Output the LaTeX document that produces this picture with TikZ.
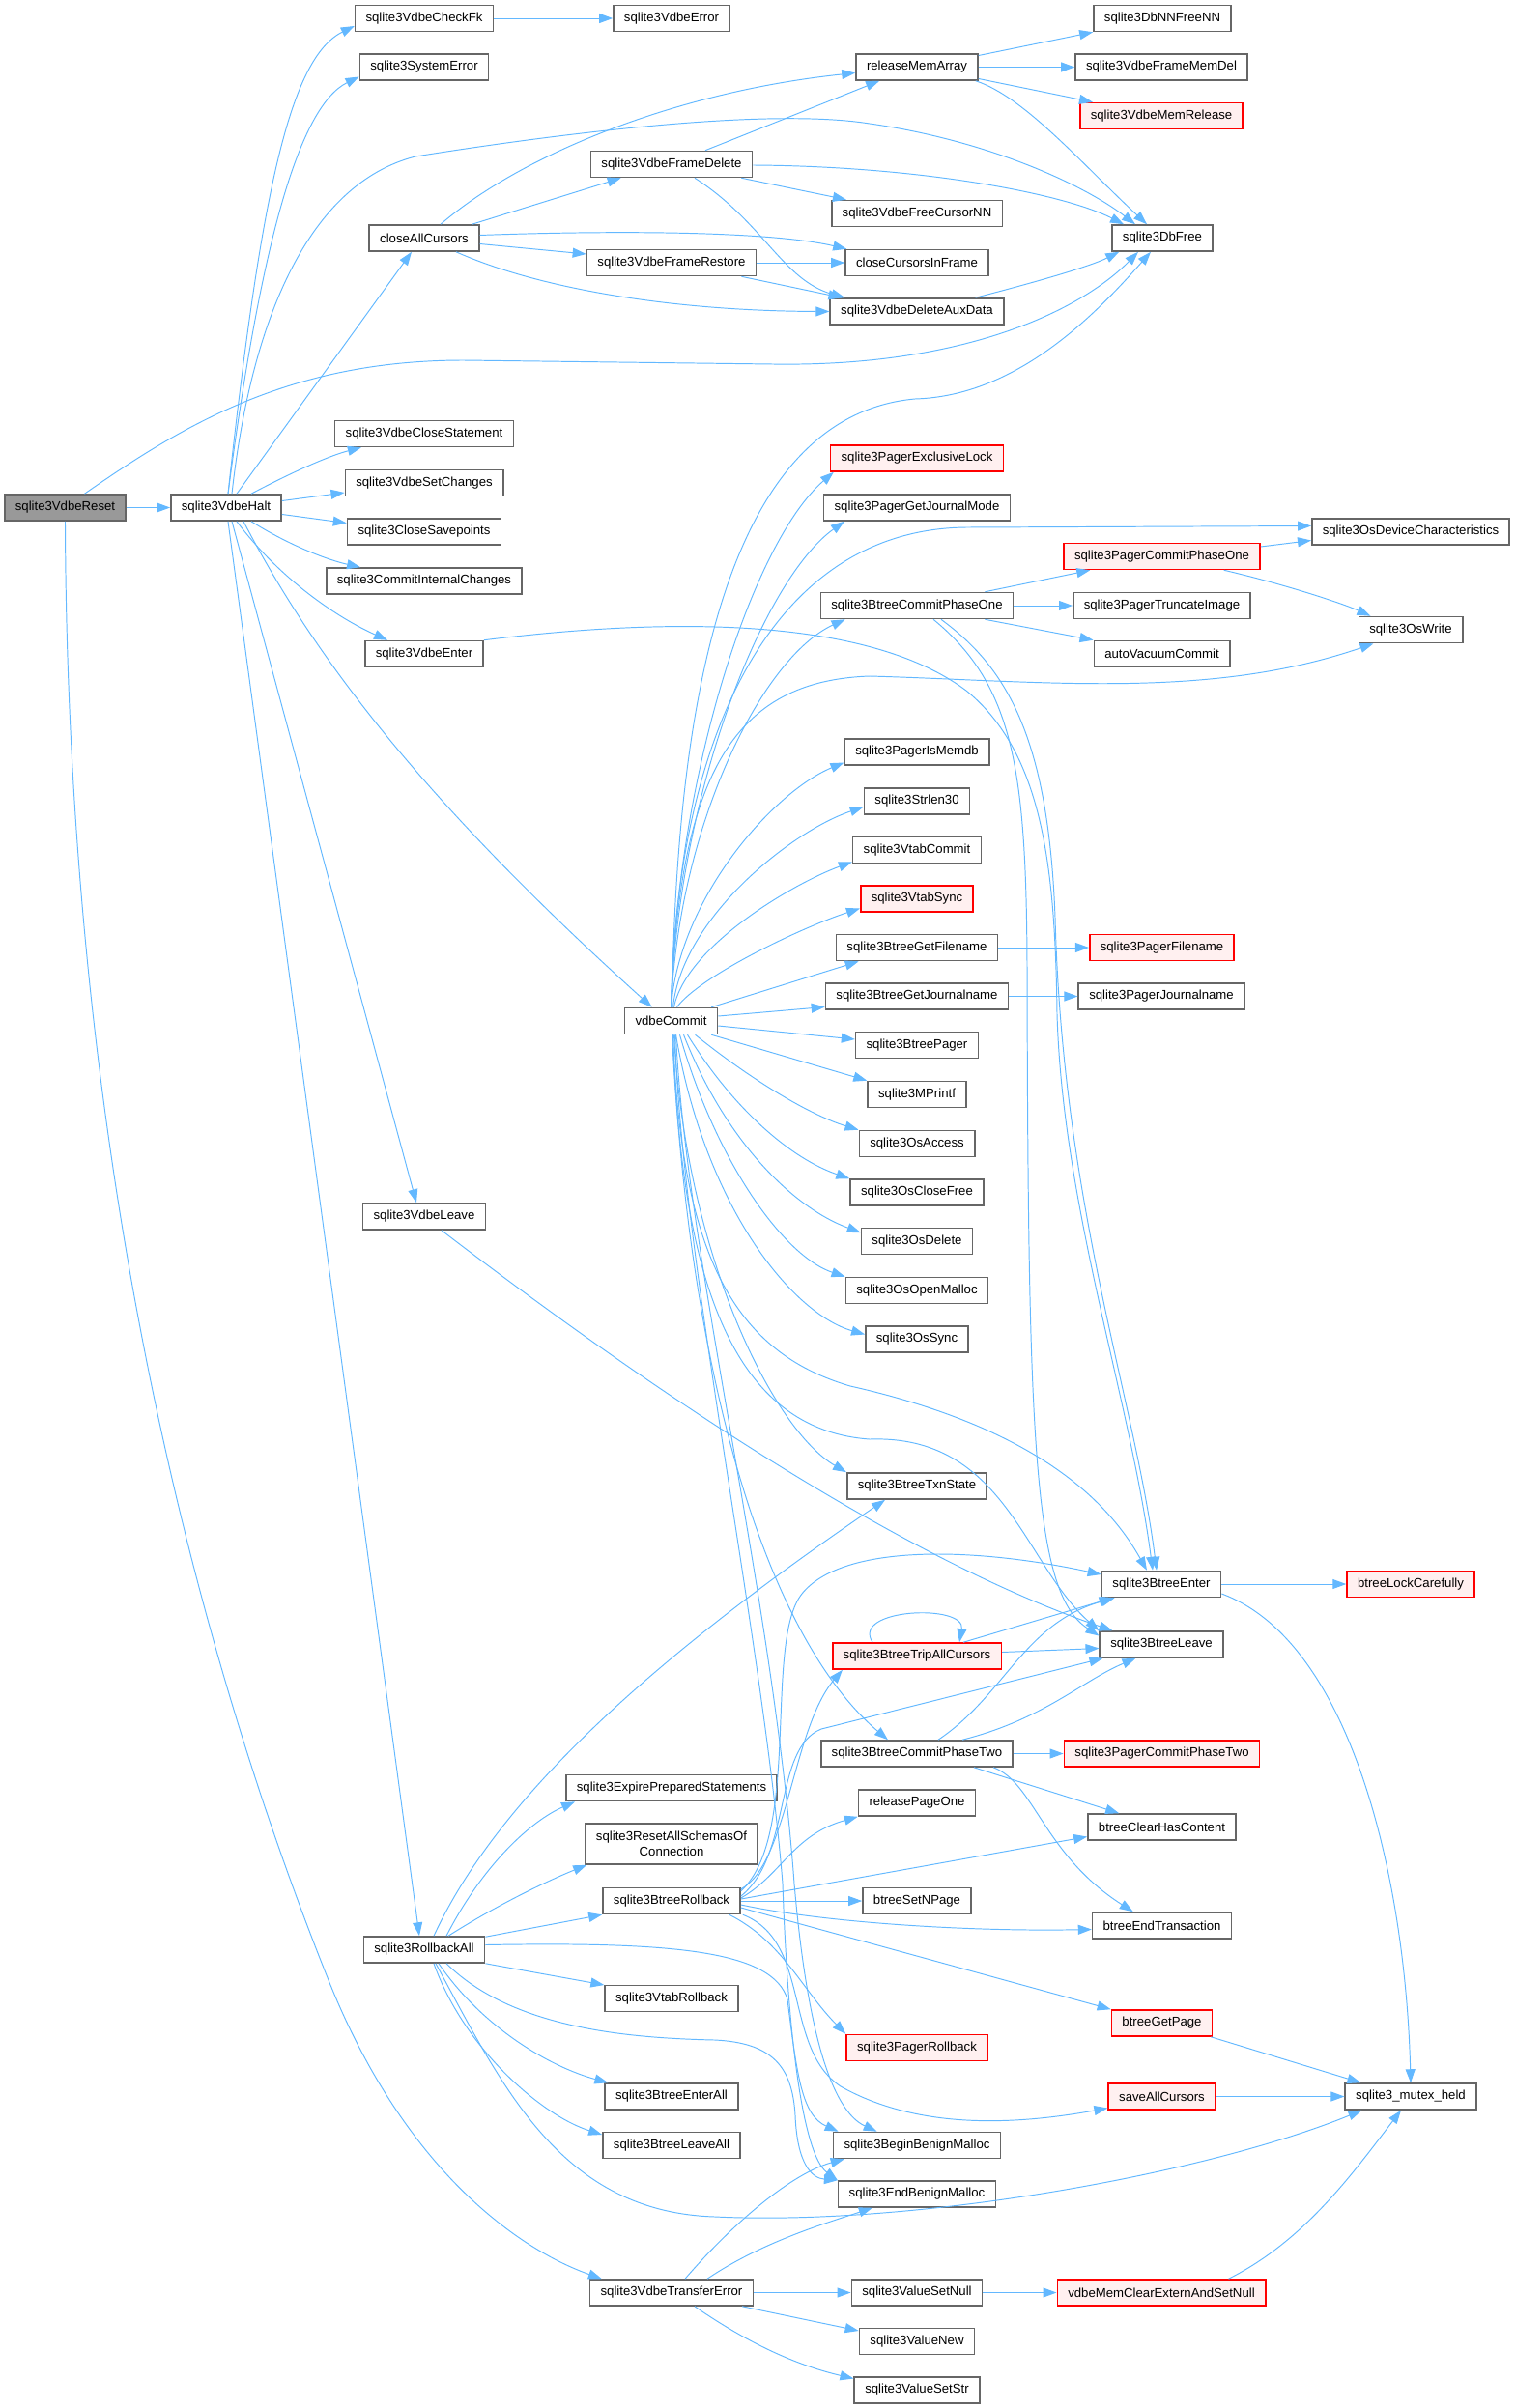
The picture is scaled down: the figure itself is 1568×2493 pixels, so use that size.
\documentclass[tikz,border=0pt]{standalone}
\usepackage{fontspec}
\setmainfont{Liberation Sans}
\usetikzlibrary{calc,arrows.meta}
\definecolor{callblue}{HTML}{63B8FF}
\definecolor{boxgrey}{HTML}{666666}
\definecolor{redfill}{HTML}{FFF0F0}
\tikzset{
  fn/.style={draw=boxgrey, fill=white, line width=0.9pt, minimum height=5.4mm,
    inner xsep=2.2mm, inner ysep=0pt, font=\fontsize{7.5}{9.4}\selectfont},
  fnred/.style={fn, draw=red, fill=redfill},
  fnroot/.style={fn, fill=black!40},
  call/.style={draw=callblue, line width=0.55pt, -{Triangle[length=2.8mm,width=2mm]}}
}
\begin{document}
\begin{tikzpicture}[x=0.2mm,y=-0.2mm]
\useasboundingbox (0,0) rectangle (1568,2493);
% column 1 and 2
\node[fnroot] (reset) at (67.5,525.5) {sqlite3VdbeReset};
\node[fn] (halt) at (234,525.5) {sqlite3VdbeHalt};
% column 3
\node[fn] (checkfk) at (439,19) {sqlite3VdbeCheckFk};
\node[fn] (syserr) at (439,69.5) {sqlite3SystemError};
\node[fn] (closeall) at (439,246.5) {closeAllCursors};
\node[fn] (closestmt) at (439,449) {sqlite3VdbeCloseStatement};
\node[fn] (setchanges) at (439,500) {sqlite3VdbeSetChanges};
\node[fn] (closesave) at (439,550.5) {sqlite3CloseSavepoints};
\node[fn] (commitint) at (439,601.5) {sqlite3CommitInternalChanges};
\node[fn] (vdbeenter) at (439,677) {sqlite3VdbeEnter};
\node[fn] (vdbeleave) at (439,1259.5) {sqlite3VdbeLeave};
\node[fn] (rollbackall) at (439,2018.5) {sqlite3RollbackAll};
% column 4
\node[fn] (vdbeerror) at (695,19) {sqlite3VdbeError};
\node[fn] (framedel) at (695,170) {sqlite3VdbeFrameDelete};
\node[fn] (framerest) at (695,272) {sqlite3VdbeFrameRestore};
\node[fn] (vdbecommit) at (694.5,1057) {vdbeCommit};
\node[fn] (expire) at (695,1851) {sqlite3ExpirePreparedStatements};
\node[fn, align=center, minimum height=8.4mm] (resetschemas) at (695,1909) {sqlite3ResetAllSchemasOf\\Connection};
\node[fn] (btrollback) at (695,1968) {sqlite3BtreeRollback};
\node[fn] (vtabrollback) at (695,2069) {sqlite3VtabRollback};
\node[fn] (enterall) at (695,2170.5) {sqlite3BtreeEnterAll};
\node[fn] (leaveall) at (695,2221) {sqlite3BtreeLeaveAll};
\node[fn] (transerr) at (695,2373.5) {sqlite3VdbeTransferError};
% column 5
\node[fn] (relmem) at (949,69.5) {releaseMemArray};
\node[fn] (freecursor) at (949,221) {sqlite3VdbeFreeCursorNN};
\node[fn] (closeinframe) at (949,272) {closeCursorsInFrame};
\node[fn] (delaux) at (949,322.5) {sqlite3VdbeDeleteAuxData};
\node[fnred] (exclock) at (949,474.5) {sqlite3PagerExclusiveLock};
\node[fn] (getjmode) at (949,525.5) {sqlite3PagerGetJournalMode};
\node[fn] (bcommit1) at (949,627) {sqlite3BtreeCommitPhaseOne};
\node[fn] (ismemdb) at (949,778.5) {sqlite3PagerIsMemdb};
\node[fn] (strlen) at (949,829.5) {sqlite3Strlen30};
\node[fn] (vtabcommit) at (949,880) {sqlite3VtabCommit};
\node[fnred] (vtabsync) at (949,930.5) {sqlite3VtabSync};
\node[fn] (getfname) at (949,981) {sqlite3BtreeGetFilename};
\node[fn] (getjname) at (949,1031.5) {sqlite3BtreeGetJournalname};
\node[fn] (btpager) at (949,1082) {sqlite3BtreePager};
\node[fn] (mprintf) at (949,1133) {sqlite3MPrintf};
\node[fn] (osaccess) at (949,1184) {sqlite3OsAccess};
\node[fn] (osclosefree) at (949,1234.5) {sqlite3OsCloseFree};
\node[fn] (osdelete) at (949,1285) {sqlite3OsDelete};
\node[fn] (osopenmalloc) at (949,1336) {sqlite3OsOpenMalloc};
\node[fn] (ossync) at (949,1386.5) {sqlite3OsSync};
\node[fn] (txnstate) at (949,1538.5) {sqlite3BtreeTxnState};
\node[fnred] (tripall) at (949,1714.5) {sqlite3BtreeTripAllCursors};
\node[fn] (bcommit2) at (949,1815.5) {sqlite3BtreeCommitPhaseTwo};
\node[fn] (relpage1) at (949,1866.5) {releasePageOne};
\node[fn] (setnpage) at (949,1968) {btreeSetNPage};
\node[fnred] (prollback) at (949,2120) {sqlite3PagerRollback};
\node[fn] (beginbm) at (949,2221) {sqlite3BeginBenignMalloc};
\node[fn] (endbm) at (949,2271.5) {sqlite3EndBenignMalloc};
\node[fn] (setnull) at (949,2373.5) {sqlite3ValueSetNull};
\node[fn] (valnew) at (949,2424) {sqlite3ValueNew};
\node[fn] (setstr) at (949,2474.5) {sqlite3ValueSetStr};
% column 6
\node[fn] (nnfree) at (1203,19) {sqlite3DbNNFreeNN};
\node[fn] (framememdel) at (1202,69.5) {sqlite3VdbeFrameMemDel};
\node[fnred] (memrel) at (1202,120) {sqlite3VdbeMemRelease};
\node[fn] (dbfree) at (1203,246.5) {sqlite3DbFree};
\node[fnred] (pcommit1) at (1202.5,576) {sqlite3PagerCommitPhaseOne};
\node[fn] (truncimg) at (1202.5,627) {sqlite3PagerTruncateImage};
\node[fn] (autovac) at (1202.5,677) {autoVacuumCommit};
\node[fnred] (pfname) at (1202.5,981) {sqlite3PagerFilename};
\node[fn] (pjname) at (1202,1031.5) {sqlite3PagerJournalname};
\node[fn] (btenter) at (1202,1640) {sqlite3BtreeEnter};
\node[fn] (btleave) at (1202,1702.5) {sqlite3BtreeLeave};
\node[fnred] (pcommit2) at (1202.5,1815.5) {sqlite3PagerCommitPhaseTwo};
\node[fn] (clearhas) at (1202.5,1891.5) {btreeClearHasContent};
\node[fn] (endtrans) at (1202.5,1993.5) {btreeEndTransaction};
\node[fnred] (getpage) at (1202.5,2094.5) {btreeGetPage};
\node[fnred] (saveall) at (1202.5,2170.5) {saveAllCursors};
\node[fnred] (memclear) at (1202,2373.5) {vdbeMemClearExternAndSetNull};
% column 7
\node[fn] (devchar) at (1460,550.5) {sqlite3OsDeviceCharacteristics};
\node[fn] (oswrite) at (1460,652) {sqlite3OsWrite};
\node[fnred] (lockcare) at (1460,1640) {btreeLockCarefully};
\node[fn] (mutexheld) at (1460,2170.5) {sqlite3\_mutex\_held};

% sqlite3VdbeReset
\draw[call] (reset.east) -- (halt.west);
\draw[call] ($(reset.north)+(20,0)$) .. controls (190,440) and (300,373) .. (480,373) -- (800,377) .. controls (1000,380) and (1120,320) .. ($(dbfree.south)+(-25,0)$);
\draw[call] (reset.south) .. controls (70,1200) and (200,1700) .. (340,2050) .. controls (420,2250) and (540,2330) .. ($(transerr.north west)+(13,0)$);
% sqlite3VdbeHalt
\draw[call] ($(halt.north)+(2,0)$) .. controls (270,200) and (300,60) .. ($(checkfk.west)+(0,8)$);
\draw[call] ($(halt.north)+(2,0)$) .. controls (270,250) and (310,110) .. ($(syserr.west)+(0,10)$);
\draw[call] ($(halt.north)+(11,0)$) -- ($(closeall.south)+(-13,0)$);
\draw[call] ($(halt.north)+(6,0)$) .. controls (260,330) and (320,190) .. (430,162) .. controls (600,135) and (800,112) .. (900,128) .. controls (1020,145) and (1120,190) .. ($(dbfree.north)+(-28,0)$);
\draw[call] ($(halt.north)+(26,0)$) .. controls (300,490) and (340,472) .. ($(closestmt.south west)+(28,0)$);
\draw[call] ($(halt.east)+(0,-7)$) -- ($(setchanges.west)+(0,10)$);
\draw[call] ($(halt.east)+(0,7)$) -- ($(closesave.west)+(0,-9)$);
\draw[call] ($(halt.south)+(26,0)$) .. controls (300,565) and (340,580) .. ($(commitint.north west)+(36,0)$);
\draw[call] ($(halt.south)+(11,0)$) .. controls (290,600) and (350,640) .. ($(vdbeenter.north west)+(24,0)$);
\draw[call] ($(halt.south)+(18,0)$) .. controls (330,690) and (450,840) .. ($(vdbecommit.north west)+(29,0)$);
\draw[call] ($(halt.south)+(6,0)$) -- ($(vdbeleave.north)+(-8,0)$);
\draw[call] ($(halt.south)+(2,0)$) -- ($(rollbackall.north)+(-5,0)$);
% closeAllCursors and frames
\draw[call] ($(closeall.north)+(17,0)$) .. controls (540,160) and (700,95) .. ($(relmem.west)+(0,6)$);
\draw[call] ($(closeall.north east)+(-8,0)$) -- ($(framedel.south west)+(32,0)$);
\draw[call] ($(closeall.east)+(0,-3)$) .. controls (650,238) and (800,240) .. ($(closeinframe.north west)+(2,0)$);
\draw[call] ($(closeall.east)+(0,6)$) -- ($(framerest.west)+(0,-9)$);
\draw[call] ($(closeall.south)+(33,0)$) .. controls (560,300) and (700,322) .. (delaux.west);
\draw[call] ($(framedel.north)+(35,0)$) -- ($(relmem.south west)+(25,0)$);
\draw[call] ($(framedel.east)+(0,1)$) .. controls (950,172) and (1100,200) .. ($(dbfree.north)+(-40,0)$);
\draw[call] ($(framedel.south east)+(-12,0)$) -- ($(freecursor.north west)+(16,0)$);
\draw[call] ($(framedel.south)+(24,0)$) .. controls (790,230) and (810,290) .. ($(delaux.north west)+(16,0)$);
\draw[call] (framerest.east) -- (closeinframe.west);
\draw[call] ($(framerest.south east)+(-16,0)$) -- ($(delaux.north west)+(13,0)$);
\draw[call] ($(relmem.east)+(0,-12)$) -- (nnfree.south west);
\draw[call] (relmem.east) -- (framememdel.west);
\draw[call] ($(relmem.east)+(0,12)$) -- ($(memrel.north west)+(14,0)$);
\draw[call] ($(relmem.south east)+(-3,0)$) .. controls (1060,100) and (1120,170) .. ($(dbfree.north)+(-16,0)$);
\draw[call] (checkfk.east) -- (vdbeerror.west);
\draw[call] ($(delaux.north east)+(-30,0)$) .. controls (1080,290) and (1130,275) .. ($(dbfree.south west)+(8,0)$);
% vdbeCommit upwards
\draw[call] ($(vdbecommit.north)+(1,0)$) .. controls (700,700) and (760,430) .. (947,413) .. controls (1050,410) and (1130,330) .. ($(dbfree.south)+(-12,0)$);
\draw[call] (vdbecommit.north) .. controls (700,800) and (780,560) .. ($(exclock.south west)+(4,0)$);
\draw[call] (vdbecommit.north) .. controls (702,820) and (790,600) .. ($(getjmode.south west)+(22,0)$);
\draw[call] (vdbecommit.north) .. controls (700,760) and (800,548) .. (1000,546) -- ($(devchar.west)+(0,-6)$);
\draw[call] (vdbecommit.north) .. controls (703,850) and (790,680) .. ($(bcommit1.south west)+(26,0)$);
\draw[call] (vdbecommit.north) .. controls (703,800) and (760,705) .. (900,700) .. controls (1080,705) and (1250,725) .. ($(oswrite.south west)+(16,0)$);
\draw[call] (vdbecommit.north) .. controls (703,930) and (800,820) .. ($(ismemdb.west)+(0,11)$);
\draw[call] ($(vdbecommit.north)+(2,0)$) .. controls (706,950) and (820,860) .. ($(strlen.west)+(0,6)$);
\draw[call] ($(vdbecommit.north)+(3,0)$) .. controls (710,980) and (820,915) .. ($(vtabcommit.south west)+(0,-2)$);
\draw[call] ($(vdbecommit.north)+(6,0)$) .. controls (725,1010) and (830,960) .. ($(vtabsync.west)+(0,10)$);
\draw[call] ($(vdbecommit.north east)+(-7,0)$) -- ($(getfname.south west)+(24,0)$);
\draw[call] ($(vdbecommit.east)+(0,-5)$) -- ($(getjname.west)+(0,11)$);
\draw[call] ($(vdbecommit.east)+(0,5)$) -- ($(btpager.west)+(0,-6)$);
% vdbeCommit downwards
\draw[call] ($(vdbecommit.south east)+(-7,0)$) -- (mprintf.north west);
\draw[call] ($(vdbecommit.south)+(25,0)$) .. controls (780,1120) and (840,1155) .. (osaccess.north west);
\draw[call] ($(vdbecommit.south)+(17,0)$) .. controls (760,1150) and (820,1200) .. (osclosefree.north west);
\draw[call] ($(vdbecommit.south)+(13,0)$) .. controls (750,1180) and (820,1250) .. ($(osdelete.west)+(0,-9)$);
\draw[call] ($(vdbecommit.south)+(9,0)$) .. controls (740,1200) and (810,1300) .. (osopenmalloc.north west);
\draw[call] ($(vdbecommit.south)+(5,0)$) .. controls (730,1250) and (820,1360) .. ($(ossync.west)+(0,-5)$);
\draw[call] ($(vdbecommit.south)+(3,0)$) .. controls (710,1300) and (800,1480) .. (txnstate.north west);
\draw[call] ($(vdbecommit.south)+(2,0)$) .. controls (705,1300) and (760,1400) .. (880,1435) .. controls (1080,1480) and (1150,1560) .. ($(btenter.north)+(-15,0)$);
\draw[call] ($(vdbecommit.south)+(2,0)$) .. controls (705,1330) and (760,1480) .. (900,1490) .. controls (1040,1485) and (1060,1620) .. (btleave.north west);
\draw[call] ($(vdbecommit.south)+(1,0)$) .. controls (715,1450) and (800,1700) .. ($(bcommit2.north west)+(70,0)$);
\draw[call] ($(vdbecommit.south)+(5,0)$) .. controls (710,1300) and (800,1650) .. (822,1950) .. controls (835,2100) and (860,2185) .. ($(beginbm.north west)+(46,0)$);
\draw[call] ($(vdbecommit.south)+(4,0)$) .. controls (705,1300) and (790,1700) .. (810,1950) .. controls (815,2100) and (830,2230) .. (endbm.north west);
% commit phase one
\draw[call] ($(bcommit1.north east)+(-30,0)$) -- ($(pcommit1.south west)+(28,0)$);
\draw[call] (bcommit1.east) -- (truncimg.west);
\draw[call] ($(bcommit1.south east)+(-30,0)$) -- (autovac.north west);
\draw[call] ($(bcommit1.south)+(17,0)$) .. controls (1050,710) and (1062,800) .. (1063,1000) .. controls (1064,1500) and (1070,1650) .. ($(btleave.west)+(0,-9)$);
\draw[call] ($(bcommit1.south)+(25,0)$) .. controls (1040,690) and (1085,760) .. (1092,950) .. controls (1100,1250) and (1175,1450) .. ($(btenter.north)+(-5,0)$);
\draw[call] (vdbeenter.north east) .. controls (700,638) and (900,640) .. (1000,715) .. controls (1080,780) and (1092,900) .. (1094,1050) .. controls (1100,1250) and (1170,1450) .. ($(btenter.north)+(-9,0)$);
\draw[call] ($(pcommit1.east)+(0,-10)$) -- ($(devchar.west)+(0,9)$);
\draw[call] ($(pcommit1.south east)+(-38,0)$) .. controls (1330,605) and (1390,625) .. ($(oswrite.north west)+(13,0)$);
\draw[call] (getfname.east) -- (pfname.west);
\draw[call] (getjname.east) -- (pjname.west);
% enter and leave
\draw[call] ($(vdbeleave.south)+(18,0)$) .. controls (700,1460) and (950,1620) .. ($(btleave.north west)+(14,0)$);
\draw[call] (btenter.east) -- (lockcare.west);
\draw[call] ($(btenter.east)+(0,10)$) .. controls (1400,1700) and (1455,1950) .. (mutexheld.north);
\draw[call] ($(tripall.north)+(-46,0)$) .. controls (880,1665) and (1000,1660) .. ($(tripall.north)+(44,0)$);
\draw[call] ($(tripall.north east)+(-40,0)$) -- ($(btenter.south west)+(12,0)$);
\draw[call] ($(tripall.east)+(0,-4)$) -- ($(btleave.west)+(0,4)$);
% commit phase two
\draw[call] ($(bcommit2.north)+(22,0)$) .. controls (1040,1755) and (1060,1680) .. ($(btenter.south west)+(14,0)$);
\draw[call] ($(bcommit2.north)+(47,0)$) .. controls (1080,1780) and (1120,1740) .. ($(btleave.south west)+(38,0)$);
\draw[call] (bcommit2.east) -- (pcommit2.west);
\draw[call] ($(bcommit2.south)+(59,0)$) -- ($(clearhas.north west)+(33,0)$);
\draw[call] ($(bcommit2.south)+(79,0)$) .. controls (1070,1845) and (1080,1920) .. ($(endtrans.north west)+(43,0)$);
% sqlite3BtreeRollback
\draw[call] ($(btrollback.north east)+(0,2)$) .. controls (815,1930) and (820,1790) .. ($(tripall.south west)+(11,0)$);
\draw[call] ($(btrollback.north east)+(0,4)$) .. controls (830,1900) and (790,1700) .. (830,1650) .. controls (870,1600) and (1000,1600) .. ($(btenter.west)+(0,-10)$);
\draw[call] ($(btrollback.east)+(0,-5)$) .. controls (820,1920) and (800,1810) .. (850,1790) -- ($(btleave.south west)+(4,0)$);
\draw[call] ($(btrollback.east)+(0,-3)$) .. controls (810,1940) and (820,1900) .. (relpage1.south west);
\draw[call] ($(btrollback.east)+(0,-2)$) -- ($(clearhas.west)+(0,10)$);
\draw[call] (btrollback.east) -- (setnpage.west);
\draw[call] ($(btrollback.east)+(0,4)$) .. controls (850,1990) and (1000,2000) .. ($(endtrans.west)+(0,4)$);
\draw[call] ($(btrollback.east)+(0,7)$) -- (getpage.north west);
\draw[call] ($(btrollback.south east)+(-12,0)$) .. controls (810,2010) and (830,2060) .. (prollback.north west);
\draw[call] ($(btrollback.south east)+(2,0)$) .. controls (840,2010) and (810,2120) .. (870,2160) .. controls (950,2205) and (1050,2200) .. ($(saveall.west)+(0,12)$);
% sqlite3RollbackAll
\draw[call] ($(rollbackall.north)+(23,0)$) .. controls (500,1930) and (550,1885) .. ($(expire.south west)+(10,0)$);
\draw[call] ($(rollbackall.north)+(25,0)$) .. controls (510,1975) and (560,1950) .. ($(resetschemas.south west)+(2,0)$);
\draw[call] ($(rollbackall.north east)+(0,1)$) -- (btrollback.south west);
\draw[call] ($(rollbackall.north)+(10,0)$) .. controls (520,1850) and (700,1700) .. ($(txnstate.south west)+(40,0)$);
\draw[call] (rollbackall.south east) -- ($(vtabrollback.west)+(0,-14)$);
\draw[call] ($(rollbackall.south)+(15,0)$) .. controls (500,2100) and (570,2140) .. ($(enterall.north west)+(4,0)$);
\draw[call] ($(rollbackall.south)+(10,0)$) .. controls (480,2120) and (560,2190) .. ($(leaveall.west)+(0,-11)$);
\draw[call] ($(rollbackall.east)+(0,-5)$) .. controls (700,2010) and (800,2020) .. (815,2070) .. controls (825,2150) and (830,2190) .. ($(beginbm.north west)+(6,0)$);
\draw[call] ($(rollbackall.south)+(23,0)$) .. controls (530,2100) and (650,2110) .. (740,2112) .. controls (800,2115) and (820,2140) .. (823,2190) .. controls (825,2240) and (840,2255) .. (endbm.north west);
\draw[call] ($(rollbackall.south)+(12,0)$) .. controls (520,2160) and (580,2290) .. (740,2295) .. controls (950,2305) and (1250,2250) .. ($(mutexheld.south west)+(18,0)$);
% sqlite3VdbeTransferError
\draw[call] ($(transerr.north)+(14,0)$) .. controls (760,2300) and (820,2250) .. ($(beginbm.south west)+(12,0)$);
\draw[call] ($(transerr.north)+(37,0)$) .. controls (790,2320) and (860,2300) .. ($(endbm.south west)+(36,0)$);
\draw[call] (transerr.east) -- (setnull.west);
\draw[call] ($(transerr.south east)+(-12,0)$) -- ($(valnew.west)+(0,-11)$);
\draw[call] ($(transerr.south)+(24,0)$) .. controls (780,2430) and (830,2450) .. ($(setstr.west)+(0,-12)$);
\draw[call] (setnull.east) -- (memclear.west);
% sqlite3_mutex_held
\draw[call] ($(memclear.north east)+(-39,0)$) .. controls (1350,2320) and (1400,2250) .. ($(mutexheld.south)+(-10,0)$);
\draw[call] ($(getpage.south east)+(-2,0)$) -- ($(mutexheld.north west)+(17,0)$);
\draw[call] (saveall.east) -- (mutexheld.west);
\end{tikzpicture}
\end{document}
